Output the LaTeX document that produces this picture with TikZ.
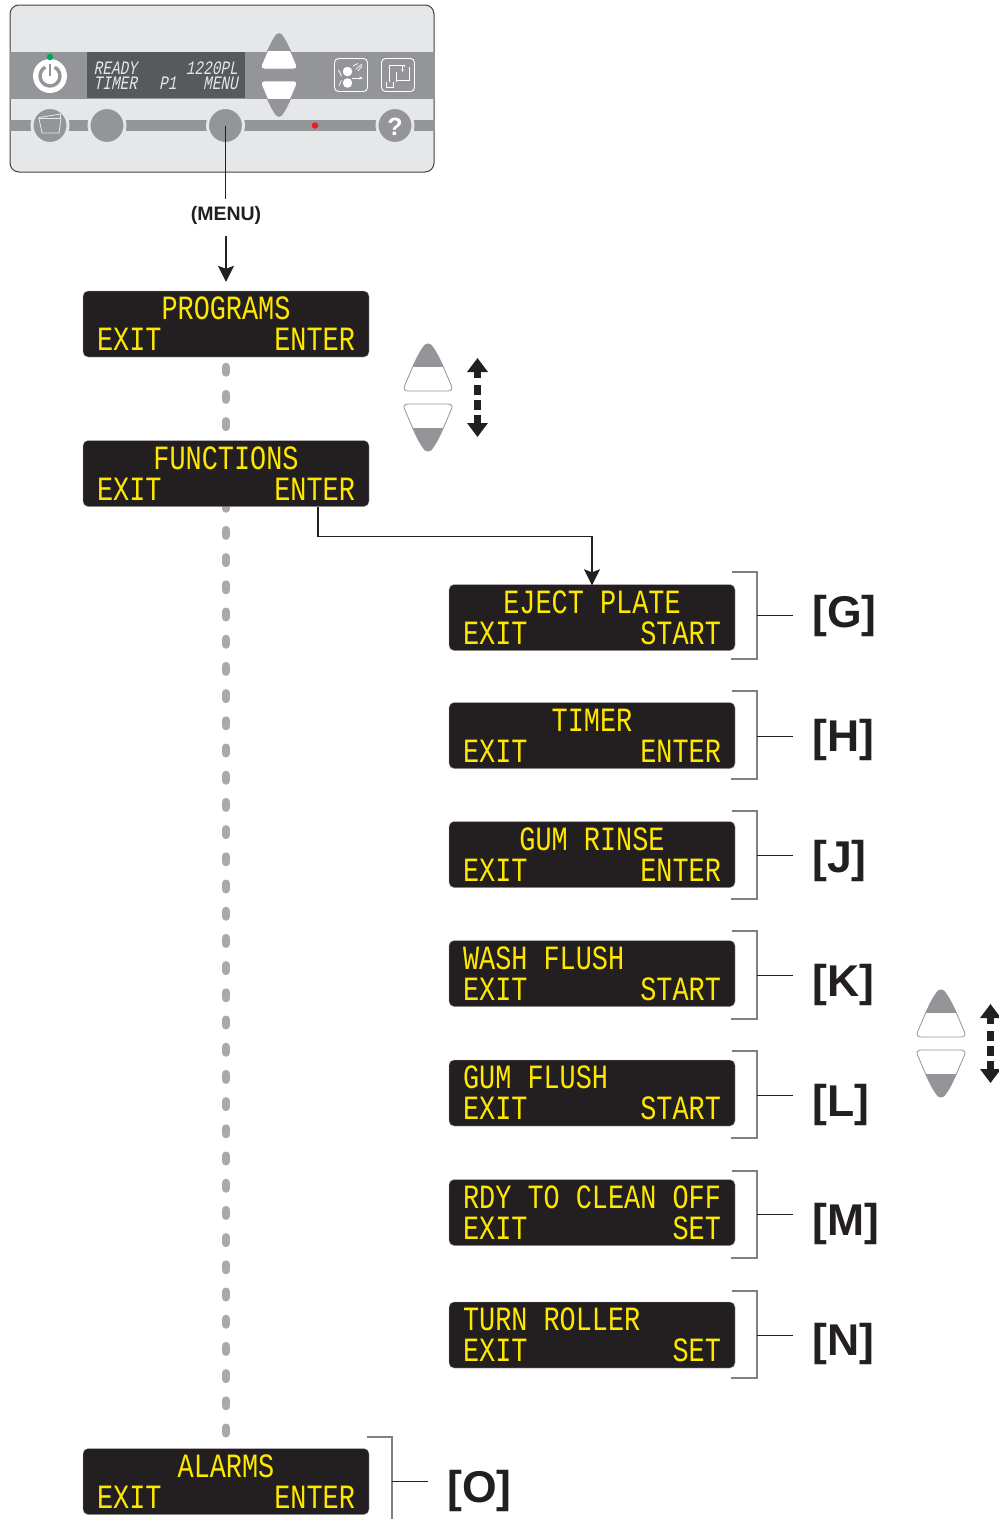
\documentclass[tikz,border=0pt]{standalone}
\usepackage{fontspec}
\usepackage{xcolor}
\usetikzlibrary{arrows.meta, backgrounds}
\setmainfont{Liberation Sans}
\newfontfamily\lcdfont[FakeStretch=0.79]{Liberation Mono}
\newfontfamily\dspfont[FakeStretch=0.76,FakeSlant=0.2]{Liberation Mono}
\definecolor{PanelLight}{HTML}{E6E7E8}
\definecolor{PanelGrey}{HTML}{939598}
\definecolor{PanelDark}{HTML}{58595B}
\definecolor{LcdBlack}{HTML}{231F20}
\definecolor{LcdYellow}{HTML}{FFE800}
\definecolor{DotGrey}{HTML}{A7A9AC}
\definecolor{LedGreen}{HTML}{00A651}
\definecolor{LedRed}{HTML}{ED1C24}

\tikzset{
  updown/.pic={
    \begin{scope}
      \clip (-3,-46) .. controls (-1,-47.5) and (1,-47.5) .. (3,-46)
        .. controls (10,-38) and (17,-20) .. (23.5,-5)
        .. controls (25,-2) and (23,0) .. (20,0) -- (-20,0)
        .. controls (-23,0) and (-25,-2) .. (-23.5,-5)
        .. controls (-17,-20) and (-10,-38) .. (-3,-46) -- cycle;
      \fill[white] (-26,-24) rectangle (26,1);
      \fill[PanelGrey] (-26,-48) rectangle (26,-24);
    \end{scope}
    \draw[PanelGrey, line width=0.8pt] (-3,-46) .. controls (-1,-47.5) and (1,-47.5) .. (3,-46)
        .. controls (10,-38) and (17,-20) .. (23.5,-5)
        .. controls (25,-2) and (23,0) .. (20,0) -- (-20,0)
        .. controls (-23,0) and (-25,-2) .. (-23.5,-5)
        .. controls (-17,-20) and (-10,-38) .. (-3,-46) -- cycle;
  }
}

\begin{document}
\begin{tikzpicture}[
    x=1pt, y=-1pt,
    lcd/.style={rectangle, rounded corners=5pt, fill=LcdBlack, draw=DotGrey, line width=0.4pt,
                minimum width=286pt, minimum height=66pt, inner sep=0pt, align=center,
                text=LcdYellow, font=\lcdfont\fontsize{34}{31}\selectfont},
    tag/.style={anchor=west, inner sep=0pt, text=LcdBlack,
                font=\bfseries\fontsize{44.5}{44.5}\selectfont},
    dsp/.style={anchor=west, inner sep=0pt, text=PanelLight,
                font=\dspfont\fontsize{19}{15}\selectfont},
    knob/.style={circle, fill=PanelGrey, draw=PanelLight, line width=3pt,
                 minimum size=36pt, inner sep=0pt},
    icon/.style={rectangle, rounded corners=4pt, draw=white, line width=0.9pt,
                 minimum width=33pt, minimum height=33pt, inner sep=0pt},
    arr/.style={-{Stealth[length=16pt, width=16pt, inset=3pt]}, line width=1.5pt, LcdBlack},
    brk/.style={draw=gray, line width=1.1pt},
    dots/.style={DotGrey, line width=8pt, line cap=round, dash pattern=on 6pt off 21.2pt},
    updn/.style={line width=7pt, LcdBlack,
                 {Triangle[length=14pt, width=20pt]}-{Triangle[length=14pt, width=20pt]},
                 dash pattern=on 7pt off 7pt on 10pt off 4.5pt on 10pt off 5pt on 8pt}
  ]
  \useasboundingbox (0,0) rectangle (999,1519);

  % control panel
  \node[rectangle, rounded corners=9pt, fill=PanelLight, draw=LcdBlack!85, line width=1pt,
        minimum width=424pt, minimum height=167pt, inner sep=0pt] (panel) at (222,88.5) {};
  \fill[PanelGrey] (panel.west |- 0,52) rectangle (panel.east |- 0,98.5);
  \fill[PanelGrey] (panel.west |- 0,120) rectangle (panel.east |- 0,131);
  \node[rectangle, fill=PanelDark, minimum width=158pt, minimum height=46.5pt, inner sep=0pt]
        (dsp) at (166,75.2) {};
  \node[dsp, align=left]  (dspl) at (93.5,75.5) {READY\\TIMER};
  \node[dsp]              (dspm) at (159,83) {P1};
  \node[dsp, anchor=east, align=right] (dspr) at (238,75.5) {1220PL\\MENU};

  \pic[scale=0.75] at (279,69) {updown};
  \pic[scale=0.75, yscale=-1] at (279,81) {updown};

  % power key
  \node[circle, fill=white, minimum size=34pt, inner sep=0pt] (power) at (50,76) {};
  \draw[PanelGrey, line width=3.4pt] (power.center) ++(-62:10) arc[start angle=62, end angle=-242, radius=10pt];
  \draw[PanelGrey, line width=1.6pt] (power.center) -- ++(0,-12);
  \node[circle, fill=LedGreen, minimum size=6.5pt, inner sep=0pt] (led) at (50,57) {};

  % keys on the lower strip
  \node[knob] (ejectkey) at (50,125.5) {};
  \node[knob] (softkey) at (107,125.5) {};
  \node[knob] (menukey) at (225.5,125.5) {};
  \node[knob] (helpkey) at (395,125.5) {};
  \node[inner sep=0pt, text=white, font=\bfseries\fontsize{25}{25}\selectfont] (helpmark) at (395,126.5) {?};
  \node[circle, fill=LedRed, minimum size=6.5pt, inner sep=0pt] (alert) at (315,125.5) {};
  \draw[PanelLight, line width=0.8pt] (39,117.5) -- (60.5,114) -- (60.5,118.5)
        (39,118.5) -- (61,118.5) -- (59,133) -- (42,133) -- cycle;

  % small panel icons
  \node[icon] (washicon) at (351,75) {};
  \node[circle, fill=white, minimum size=9.5pt, inner sep=0pt] (rollerup) at (347.5,71.5) {};
  \node[circle, fill=white, minimum size=9.5pt, inner sep=0pt] (rollerdn) at (347.5,83) {};
  \coordinate (nip) at (352,78);
  \coordinate (out) at (363,78);
  \draw[white, line width=0.8pt, -{Stealth[length=4pt]}] (nip) -- (out);
  \draw[white, line width=0.7pt] (338.5,70) -- (341.5,76) (341.5,80) -- (339,86)
        (353,66) -- (358,63.5) (356,69) -- (362,64) (358,71) -- (362,66);
  \node[icon] (flowicon) at (398,75) {};
  \draw[white, line width=0.9pt] (386,82) -- (386,87.5) -- (393,87.5) -- (393,82)
        (389,82) -- (389,65) -- (404,65) -- (404,67)
        (396,82) -- (396,80) (396,80) -- (409,80) -- (409,67)
        (396,80) -- (396,72);
  \coordinate (drip) at (402.5,66);
  \coordinate (dripend) at (402.5,72);
  \draw[white, line width=0.9pt, -{Stealth[length=3pt]}] (drip) -- (dripend);

  % screens
  \node[lcd] (programs)  at (226,324)  {PROGRAMS\\EXIT~~~~~~~ENTER};
  \node[lcd] (functions) at (226,473.5) {FUNCTIONS\\EXIT~~~~~~~ENTER};
  \node[lcd] (alarms)    at (226,1481.5) {ALARMS\\EXIT~~~~~~~ENTER};

  \foreach \nm/\ybox/\ltop/\lbot/\ybt/\ybb/\ytick/\ytag/\txt in {
      eject/617.5/{EJECT PLATE}/{EXIT~~~~~~~START}/572/659/615/616/G,
      timer/735.5/{TIMER}/{EXIT~~~~~~~ENTER}/691/779/736/740/H,
      gumrinse/854.5/{GUM RINSE}/{EXIT~~~~~~~ENTER}/811/899/855/861/J,
      washflush/973.5/{WASH FLUSH\phantom{XXXXXX}}/{EXIT~~~~~~~START}/931/1019/975/985/K,
      gumflush/1093/{GUM FLUSH\phantom{XXXXXXX}}/{EXIT~~~~~~~START}/1051/1138/1095/1105/L,
      ready/1212.5/{RDY TO CLEAN OFF}/{EXIT~~~~~~~~~SET}/1171/1258/1214/1224/M,
      roller/1335/{TURN ROLLER\phantom{XXXXX}}/{EXIT~~~~~~~~~SET}/1291/1378/1335/1344/N}{
    \node[lcd] (\nm) at (592,\ybox) {\ltop\\\lbot};
    \node[tag] (tag\nm) at (812,\ytag) {[\txt]};
    \coordinate (brk\nm) at (757,\ytick);
    \draw[brk] (732,\ybt) -- (757,\ybt) -- (757,\ybb) -- (731,\ybb);
    \draw[LcdBlack, line width=0.8pt, shorten >=19pt] (brk\nm) -- (brk\nm -| tag\nm.west);
  }

  \node[tag] (tagalarms) at (447,1490.5) {[O]};
  \coordinate (brkalarms) at (392,1481);
  \draw[brk] (367,1437) -- (392,1437) -- (392,1522);
  \draw[LcdBlack, line width=0.8pt, shorten >=19pt] (brkalarms) -- (brkalarms -| tagalarms.west);

  % step arrows
  \node[inner sep=0pt, text=LcdBlack, font=\bfseries\fontsize{19.5}{19.5}\selectfont] (menu) at (226,215.5) {(MENU)};
  \draw[LcdBlack, line width=1.5pt, shorten >=7pt] (menukey.center) -- (menukey.center |- menu.north);
  \draw[arr, shorten >=9pt] ([yshift=-11pt]menu.south) -- (programs.north);
  \draw[arr] ([xshift=92pt]functions.south) -- ++(0,30) -| ([yshift=-1pt]eject.north);

  % scroll keys
  \pic at (428,391) {updown};
  \pic[yscale=-1] at (428,404) {updown};
  \coordinate (uptip) at (477.5,358);
  \coordinate (dntip) at (477.5,437);
  \draw[updn] (uptip) -- (dntip);
  \pic at (941,1037) {updown};
  \pic[yscale=-1] at (941,1050) {updown};
  \coordinate (uptipb) at (990.5,1004);
  \coordinate (dntipb) at (990.5,1083);
  \draw[updn] (uptipb) -- (dntipb);

  \begin{scope}[on background layer]
    \draw[dots, dash phase=17.7pt] (programs.south) -- (alarms.north);
  \end{scope}
\end{tikzpicture}
\end{document}
